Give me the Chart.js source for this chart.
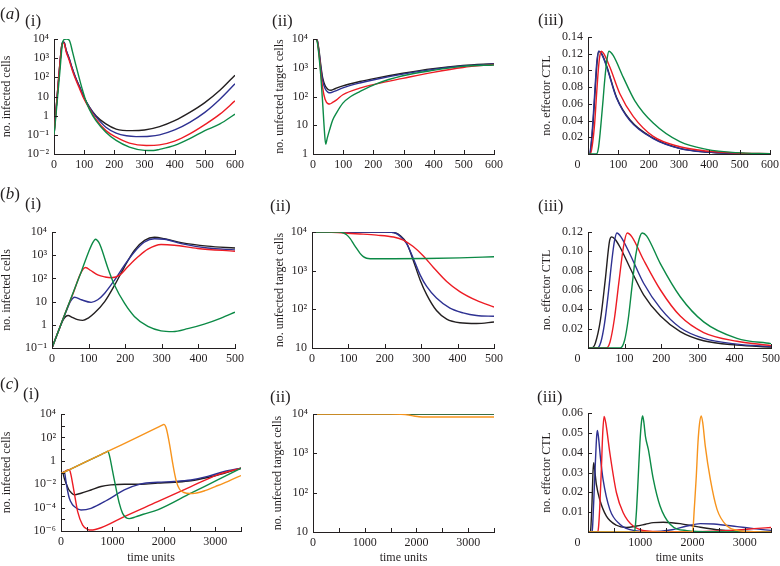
<!DOCTYPE html>
<html><head><meta charset="utf-8">
<script src="https://cdn.jsdelivr.net/npm/chart.js@4.4.1/dist/chart.umd.min.js"></script>
<style>
body{margin:0;width:780px;height:566px;background:#fff;position:relative;overflow:hidden;font-family:'Liberation Serif','DejaVu Serif',serif}
canvas{position:absolute;left:0;top:0}
.lab{position:absolute;font-size:17px;line-height:17px;color:#231f20;white-space:nowrap}
</style></head><body>
<canvas id="a1" width="780" height="566"></canvas>
<canvas id="a2" width="780" height="566"></canvas>
<canvas id="a3" width="780" height="566"></canvas>
<canvas id="b1" width="780" height="566"></canvas>
<canvas id="b2" width="780" height="566"></canvas>
<canvas id="b3" width="780" height="566"></canvas>
<canvas id="c1" width="780" height="566"></canvas>
<canvas id="c2" width="780" height="566"></canvas>
<canvas id="c3" width="780" height="566"></canvas>
<div class="lab" style="left:0;top:5px">(<i>a</i>)</div>
<div class="lab" style="left:25px;top:12px">(i)</div>
<div class="lab" style="left:272px;top:12px">(ii)</div>
<div class="lab" style="left:538px;top:11px">(iii)</div>
<div class="lab" style="left:0;top:185px">(<i>b</i>)</div>
<div class="lab" style="left:25px;top:195px">(i)</div>
<div class="lab" style="left:270px;top:197px">(ii)</div>
<div class="lab" style="left:538px;top:197px">(iii)</div>
<div class="lab" style="left:0;top:375px">(<i>c</i>)</div>
<div class="lab" style="left:23px;top:385px">(i)</div>
<div class="lab" style="left:270px;top:388px">(ii)</div>
<div class="lab" style="left:537px;top:388px">(iii)</div>
<script>
// ---------- tick values and labels ----------
const X_TICKS_600 = [0, 100, 200, 300, 400, 500, 600];
const X_LABELS_600 = ['0', '100', '200', '300', '400', '500', '600'];
const X_LABELS_600_OFF = ['0       ', '100', '200', '300', '400', '500', '600'];
const X_TICKS_500 = [0, 100, 200, 300, 400, 500];
const X_LABELS_500 = ['0', '100', '200', '300', '400', '500'];
const X_LABELS_500_OFF = ['0       ', '100', '200', '300', '400', '500'];
const X_TICKS_3500 = [0, 500, 1000, 1500, 2000, 2500, 3000, 3500];
const X_LABELS_3500 = ['0', '', '1000', '', '2000', '', '3000', ''];
const X_LABELS_3500_OFF = ['0       ', '', '1000', '', '2000', '', '3000', ''];

const A1_Y_TICKS = [0.01, 0.1, 1, 10, 100, 1000, 10000];
const A1_Y_LABELS = ['10⁻²', '10⁻¹', '1', '10', '10²', '10³', '10⁴'];
const A2_Y_TICKS = [1, 10, 100, 1000, 10000];
const A2_Y_LABELS = ['1', '10', '10²', '10³', '10⁴'];
const A3_Y_TICKS = [0.02, 0.04, 0.06, 0.08, 0.1, 0.12, 0.14];
const A3_Y_LABELS = ['0.02', '0.04', '0.06', '0.08', '0.10', '0.12', '0.14'];
const B1_Y_TICKS = [0.1, 1, 10, 100, 1000, 10000];
const B1_Y_LABELS = ['10⁻¹', '1', '10', '10²', '10³', '10⁴'];
const B2_Y_TICKS = [10, 100, 1000, 10000];
const B2_Y_LABELS = ['10', '10²', '10³', '10⁴'];
const B3_Y_TICKS = [0.02, 0.04, 0.06, 0.08, 0.1, 0.12];
const B3_Y_LABELS = ['0.02', '0.04', '0.06', '0.08', '0.10', '0.12'];
const C1_Y_TICKS = [1e-6, 1e-5, 1e-4, 1e-3, 1e-2, 1e-1, 1, 10, 100, 1000, 10000];
const C1_Y_LABELS = ['10⁻⁶', '', '10⁻⁴', '', '10⁻²', '', '1', '', '10²', '', '10⁴'];
const C2_Y_TICKS = [10, 100, 1000, 10000];
const C2_Y_LABELS = ['10', '10²', '10³', '10⁴'];
const C3_Y_TICKS = [0.01, 0.02, 0.03, 0.04, 0.05, 0.06];
const C3_Y_LABELS = ['0.01', '0.02', '0.03', '0.04', '0.05', '0.06'];

// ---------- (a)(i) infected cells ----------
const A1_BLACK_X = [0, 5, 12, 20, 26, 30, 34, 40, 50, 60, 72, 85, 100, 117, 139, 172, 206, 258, 300, 350, 400, 450, 500, 550, 600];
const A1_BLACK_Y = [0.1, 0.9, 20, 630, 5000, 7000, 6600, 2700, 1000, 310, 93, 32, 8.9, 2.9, 1.0, 0.37, 0.2, 0.166, 0.18, 0.27, 0.55, 1.48, 4.8, 21, 129];
const A1_BLUE_X = [0, 5, 12, 20, 26, 30, 34, 40, 50, 60, 72, 85, 100, 117, 139, 172, 206, 240, 272, 317, 350, 400, 450, 500, 550, 600];
const A1_BLUE_Y = [0.1, 0.9, 20, 630, 5000, 6900, 6500, 2650, 980, 305, 92, 31, 8.5, 2.8, 0.89, 0.25, 0.123, 0.089, 0.081, 0.085, 0.1, 0.18, 0.45, 1.48, 7.2, 46];
const A1_RED_X = [0, 5, 12, 20, 26, 30, 34, 40, 50, 60, 72, 85, 100, 117, 139, 172, 206, 250, 306, 350, 400, 450, 500, 550, 600];
const A1_RED_Y = [0.1, 0.9, 20, 630, 4800, 6300, 5800, 2240, 794, 251, 76, 25, 7.2, 2.45, 0.66, 0.166, 0.076, 0.037, 0.028, 0.03, 0.047, 0.112, 0.34, 1.2, 5.9];
const A1_GREEN_X = [0, 5, 12, 20, 28, 35, 42, 50, 55, 61, 72, 83, 94, 105, 117, 139, 172, 206, 250, 300, 330, 350, 400, 450, 500, 550, 600];
const A1_GREEN_Y = [0.1, 0.6, 10, 250, 6000, 9600, 9800, 8900, 5600, 2240, 457, 100, 23, 6.3, 2.2, 0.55, 0.138, 0.051, 0.023, 0.0155, 0.0151, 0.0174, 0.028, 0.063, 0.166, 0.37, 1.2];

// ---------- (a)(ii) uninfected target cells ----------
const A2_BLACK_X = [0, 8, 14, 20, 26, 32, 40, 50, 60, 75, 99, 155, 210, 298, 398, 497, 600];
const A2_BLACK_Y = [10000, 10000, 9000, 4000, 1200, 450, 240, 175, 165, 190, 234, 331, 437, 646, 933, 1200, 1380];
const A2_BLUE_X = [0, 8, 14, 20, 26, 32, 40, 50, 57, 70, 99, 155, 210, 298, 398, 497, 600];
const A2_BLUE_Y = [10000, 10000, 9000, 3500, 1000, 360, 190, 140, 135, 150, 200, 295, 400, 600, 880, 1150, 1350];
const A2_RED_X = [0, 8, 14, 20, 26, 32, 40, 50, 55, 65, 77, 99, 155, 210, 298, 398, 497, 600];
const A2_RED_Y = [10000, 10000, 8500, 3000, 700, 200, 80, 56, 55, 62, 75, 115, 195, 275, 427, 692, 1020, 1300];
const A2_GREEN_X = [0, 8, 14, 20, 26, 32, 38, 42, 47, 55, 65, 77, 99, 125, 155, 210, 298, 398, 497, 600];
const A2_GREEN_Y = [10000, 10000, 8000, 2500, 500, 60, 6, 2.2, 3.5, 6.9, 15, 26, 59, 100, 148, 275, 525, 813, 1120, 1250];

// ---------- (a)(iii) effector CTL ----------
const A3_BLACK_X = [0, 5, 10, 16, 20, 25, 30, 36, 45, 61, 94, 138, 215, 303, 391, 490, 600];
const A3_BLACK_Y = [0, 0, 0.008, 0.033, 0.055, 0.084, 0.11, 0.123, 0.12, 0.106, 0.068, 0.041, 0.019, 0.0068, 0.0024, 0.0008, 0.0002];
const A3_BLUE_X = [0, 4, 9, 15, 19, 24, 29, 35, 44, 60, 94, 138, 215, 303, 391, 490, 600];
const A3_BLUE_Y = [0, 0, 0.008, 0.033, 0.055, 0.084, 0.11, 0.123, 0.12, 0.106, 0.067, 0.040, 0.0185, 0.0066, 0.0023, 0.0008, 0.0002];
const A3_RED_X = [0, 8, 14, 22, 28, 33, 38, 44, 52, 72, 105, 149, 215, 303, 391, 490, 600];
const A3_RED_Y = [0, 0, 0.01, 0.037, 0.07, 0.096, 0.115, 0.123, 0.12, 0.104, 0.072, 0.045, 0.021, 0.0087, 0.0036, 0.0012, 0.0003];
const A3_GREEN_X = [0, 28, 34, 40, 44, 50, 55, 63, 69, 83, 116, 154, 215, 303, 391, 490, 600];
const A3_GREEN_Y = [0, 0, 0.006, 0.025, 0.041, 0.066, 0.088, 0.114, 0.123, 0.118, 0.092, 0.064, 0.037, 0.0147, 0.0056, 0.0016, 0.0004];

// ---------- (b)(i) infected cells ----------
const B1_BLACK_X = [0, 20, 30, 38, 44, 55, 70, 84, 100, 116, 144, 171, 198, 225, 253, 280, 307, 353, 425, 500];
const B1_BLACK_Y = [0.1, 0.68, 1.6, 2.3, 2.5, 2.1, 1.66, 1.55, 2.0, 3.2, 10, 51, 316, 1620, 4370, 5900, 5130, 3470, 2450, 2040];
const B1_BLUE_X = [0, 20, 40, 50, 62, 80, 107, 125, 144, 171, 198, 225, 253, 280, 307, 353, 425, 500];
const B1_BLUE_Y = [0.1, 0.68, 4.2, 10, 15.5, 12, 9.3, 12, 23, 85, 370, 1380, 3700, 5130, 4900, 3160, 2040, 1700];
const B1_RED_X = [0, 20, 40, 60, 75, 85, 92, 105, 125, 145, 162, 185, 207, 235, 262, 298, 334, 398, 500];
const B1_RED_Y = [0.1, 0.68, 4.6, 28, 126, 250, 295, 224, 141, 115, 107, 138, 316, 850, 1820, 2880, 2690, 1950, 1480];
const B1_GREEN_X = [0, 20, 40, 60, 80, 100, 110, 119, 128, 135, 153, 171, 198, 225, 262, 298, 330, 371, 416, 462, 500];
const B1_GREEN_Y = [0.1, 0.68, 4.6, 30, 195, 1380, 3160, 4900, 3550, 1950, 270, 51, 8.5, 2.3, 0.85, 0.55, 0.51, 0.68, 1.07, 1.95, 3.5];

// ---------- (b)(ii) uninfected target cells ----------
const B2_BLACK_X = [0, 200, 230, 242, 260, 278, 297, 315, 342, 370, 406, 452, 500];
const B2_BLACK_Y = [10000, 9950, 9400, 8100, 5200, 1860, 575, 240, 93, 56, 45, 43, 47];
const B2_BLUE_X = [0, 200, 230, 242, 260, 278, 297, 315, 342, 379, 415, 452, 500];
const B2_BLUE_Y = [10000, 9900, 9300, 7800, 5000, 2100, 780, 390, 195, 107, 81, 69, 66];
const B2_RED_X = [0, 41, 87, 132, 178, 224, 251, 278, 306, 333, 370, 406, 452, 500];
const B2_RED_Y = [10000, 10000, 9400, 8900, 8300, 7400, 6200, 4200, 2400, 1230, 525, 288, 170, 115];
const B2_GREEN_X = [0, 78, 95, 105, 115, 123, 132, 141, 150, 160, 224, 315, 406, 500];
const B2_GREEN_Y = [10000, 9900, 8500, 6760, 4800, 3700, 2800, 2300, 2090, 2040, 2040, 2065, 2140, 2290];

// ---------- (b)(iii) effector CTL ----------
const B3_BLACK_X = [0, 10, 20, 34, 47, 59, 65, 75, 88, 116, 152, 198, 252, 316, 407, 500];
const B3_BLACK_Y = [0, 0, 0.005, 0.029, 0.07, 0.111, 0.115, 0.112, 0.104, 0.082, 0.055, 0.033, 0.017, 0.0075, 0.003, 0.001];
const B3_BLUE_X = [0, 25, 35, 45, 55, 65, 72, 79, 90, 116, 152, 198, 252, 316, 407, 500];
const B3_BLUE_Y = [0, 0, 0.006, 0.025, 0.055, 0.09, 0.11, 0.119, 0.115, 0.096, 0.067, 0.041, 0.021, 0.010, 0.004, 0.0015];
const B3_RED_X = [0, 50, 60, 72, 85, 97, 107, 120, 152, 198, 252, 316, 407, 500];
const B3_RED_Y = [0, 0, 0.006, 0.03, 0.07, 0.105, 0.119, 0.115, 0.091, 0.06, 0.033, 0.016, 0.007, 0.0025];
const B3_GREEN_X = [0, 88, 100, 110, 120, 130, 140, 148, 160, 198, 252, 316, 407, 500];
const B3_GREEN_Y = [0, 0, 0.008, 0.03, 0.063, 0.095, 0.113, 0.119, 0.116, 0.087, 0.053, 0.027, 0.010, 0.0045];

// ---------- (c)(i) infected cells ----------
const C1_BLACK_X = [0, 32, 65, 97, 150, 194, 259, 389, 583, 777, 971, 1231, 1555, 1879, 2203, 2527, 2851, 3175, 3500];
const C1_BLACK_Y = [0.08, 0.093, 0.03, 0.0123, 0.0035, 0.002, 0.00123, 0.0017, 0.0032, 0.0063, 0.0087, 0.01, 0.01, 0.0123, 0.0148, 0.0195, 0.037, 0.087, 0.234];
const C1_BLUE_X = [0, 65, 97, 130, 162, 210, 259, 389, 583, 907, 1231, 1555, 1879, 2203, 2527, 2851, 3175, 3500];
const C1_BLUE_Y = [0.08, 0.11, 0.017, 0.0025, 0.00063, 0.00022, 0.000123, 0.000063, 0.000087, 0.00046, 0.0032, 0.0107, 0.0148, 0.017, 0.023, 0.046, 0.123, 0.234];
const C1_RED_X = [0, 162, 194, 230, 259, 324, 421, 518, 583, 777, 1231, 1879, 2527, 3046, 3500];
const C1_RED_Y = [0.08, 0.17, 0.063, 0.009, 0.0017, 0.000046, 0.0000032, 0.0000014, 0.0000012, 0.0000019, 0.000017, 0.00032, 0.0063, 0.063, 0.234];
const C1_GREEN_X = [0, 500, 800, 880, 907, 939, 1004, 1069, 1134, 1198, 1263, 1328, 1450, 1600, 1879, 2527, 3046, 3500];
const C1_GREEN_Y = [0.08, 0.9, 3.8, 5.6, 6.6, 3.2, 0.123, 0.0046, 0.00023, 0.000032, 0.000014, 0.0000115, 0.000016, 0.000027, 0.000063, 0.0017, 0.023, 0.23];
const C1_ORANGE_X = [0, 500, 1000, 1500, 1900, 1980, 2000, 2045, 2110, 2175, 2240, 2305, 2390, 2500, 2600, 2800, 3000, 3250, 3500];
const C1_ORANGE_Y = [0.08, 0.9, 10, 110, 790, 1170, 1300, 630, 27, 0.51, 0.0195, 0.0037, 0.00195, 0.0016, 0.00166, 0.0028, 0.0063, 0.0178, 0.055];

// ---------- (c)(ii) uninfected target cells ----------
const C2_FLAT_X = [0, 3500];
const C2_FLAT_Y = [10000, 10000];
const C2_ORANGE_X = [0, 1500, 1700, 1850, 1950, 2050, 2200, 3500];
const C2_ORANGE_Y = [10000, 9950, 9800, 9400, 8900, 8500, 8400, 8400];

// ---------- (c)(iii) effector CTL ----------
const C3_BLACK_X = [0, 40, 51, 77, 95, 109, 125, 160, 224, 352, 544, 737, 929, 1100, 1250, 1442, 1600, 1763, 2083, 2532, 3173, 3500];
const C3_BLACK_Y = [0, 0, 0.001, 0.015, 0.03, 0.0349, 0.032, 0.024, 0.0164, 0.008, 0.0034, 0.0023, 0.003, 0.0039, 0.0047, 0.0049, 0.0047, 0.0042, 0.0027, 0.001, 0.0002, 0.0001];
const C3_BLUE_X = [0, 70, 83, 109, 141, 165, 179, 200, 240, 288, 417, 609, 865, 1250, 1571, 1891, 2147, 2404, 2853, 3173, 3500];
const C3_BLUE_Y = [0, 0, 0.001, 0.015, 0.035, 0.048, 0.0512, 0.048, 0.037, 0.0265, 0.0114, 0.0039, 0.0008, 0.0002, 0.001, 0.003, 0.0042, 0.004, 0.0027, 0.0017, 0.0008];
const C3_RED_X = [0, 185, 200, 224, 256, 282, 308, 340, 417, 544, 673, 865, 1250, 2000, 2532, 3000, 3173, 3500];
const C3_RED_Y = [0, 0, 0.002, 0.012, 0.032, 0.05, 0.0583, 0.055, 0.04, 0.0198, 0.0097, 0.003, 0.0003, 0.0001, 0.0005, 0.0013, 0.0017, 0.0023];
const C3_GREEN_X = [0, 880, 897, 929, 961, 993, 1025, 1045, 1065, 1100, 1154, 1250, 1378, 1571, 1891, 2400, 3500];
const C3_GREEN_Y = [0, 0, 0.001, 0.0114, 0.028, 0.045, 0.056, 0.0585, 0.056, 0.048, 0.0416, 0.0265, 0.0131, 0.0039, 0.0007, 0.0001, 0];
const C3_ORANGE_X = [0, 1990, 2006, 2032, 2071, 2103, 2135, 2166, 2195, 2243, 2340, 2468, 2660, 2853, 3173, 3500];
const C3_ORANGE_Y = [0, 0, 0.001, 0.0114, 0.028, 0.045, 0.055, 0.0585, 0.055, 0.0433, 0.0265, 0.0114, 0.003, 0.0008, 0.0001, 0];

// ---------- styling ----------
const BLACK = '#231f20', BLUE = '#2e3192', RED = '#ed1c24', GREEN = '#0c8a46', ORANGE = '#f7941d';
const AXIS = '#231f20', TXT = '#231f20';
const FONT = "'Liberation Serif','DejaVu Serif',serif";
Chart.defaults.font.family = FONT;
Chart.defaults.font.size = 12;
Chart.defaults.color = TXT;

const inTicks = {
  id: 'inTicks',
  afterDatasetsDraw(chart) {
    const { ctx, chartArea: { left, bottom } } = chart;
    const xs = chart.scales.x, ys = chart.scales.y;
    ctx.save();
    ctx.strokeStyle = AXIS; ctx.lineWidth = 1;
    ctx.beginPath();
    xs.ticks.forEach(t => { const p = Math.round(xs.getPixelForValue(t.value)) + 0.5; ctx.moveTo(p, bottom); ctx.lineTo(p, bottom - 4); });
    ys.ticks.forEach(t => { const p = Math.round(ys.getPixelForValue(t.value)) + 0.5; ctx.moveTo(left, p); ctx.lineTo(left + 4, p); });
    ctx.stroke();
    ctx.restore();
  }
};

function pts(xs, ys) { return xs.map((x, i) => ({ x: x, y: ys[i] })); }

function panel(id, o) {
  const padLeft = Math.max(0, o.titleCx - 7.2);
  const yw = o.left - padLeft;
  const xh = o.xTitle ? (558 - o.bottom + 7.2) : 20;
  const padBottom = 566 - o.bottom - xh;
  new Chart(document.getElementById(id), {
    type: 'line',
    data: {
      datasets: o.series.map(s => ({
        data: pts(s[0], s[1]), borderColor: s[2], borderWidth: 1.4, pointRadius: 0,
        fill: false, cubicInterpolationMode: 'monotone'
      }))
    },
    options: {
      responsive: false, animation: false, events: [], devicePixelRatio: 1,
      layout: { padding: { left: padLeft, right: 780 - o.right, top: o.top, bottom: padBottom } },
      plugins: { legend: { display: false }, tooltip: { enabled: false } },
      scales: {
        x: {
          type: 'linear', min: 0, max: o.xMax,
          grid: { display: false, drawTicks: false },
          border: { display: true, color: AXIS, width: 1 },
          afterBuildTicks: s => { s.ticks = o.xTicks.map(v => ({ value: v })); },
          afterFit: s => { s.height = xh; s.paddingLeft = 0; s.paddingRight = 0; },
          ticks: { autoSkip: false, maxRotation: 0, minRotation: 0, padding: 4, color: TXT, callback: (v, i) => o.xLabels[i] },
          title: { display: !!o.xTitle, text: 'time units', padding: 0, color: TXT, font: { size: 12 } }
        },
        y: {
          type: o.yType, min: o.yMin, max: o.yMax,
          grid: { display: false, drawTicks: false },
          border: { display: true, color: AXIS, width: 1 },
          afterBuildTicks: s => { s.ticks = o.yTicks.map(v => ({ value: v })); },
          afterFit: s => { s.width = yw; s.paddingTop = 0; s.paddingBottom = 0; },
          ticks: { autoSkip: false, padding: 5, color: TXT, callback: (v, i) => o.yLabels[i] },
          title: { display: true, text: o.yTitle, padding: 0, color: TXT, font: { size: 12 } }
        }
      }
    },
    plugins: [inTicks]
  });
}

const T_INF = 'no. infected cells', T_UNF = 'no. unfected target cells', T_CTL = 'no. effector CTL';

panel('a1', { left: 54, right: 235, top: 39, bottom: 154, titleCx: 7, yType: 'logarithmic', yMin: 0.01, yMax: 10000,
  yTicks: A1_Y_TICKS, yLabels: A1_Y_LABELS, xMax: 600, xTicks: X_TICKS_600, xLabels: X_LABELS_600, yTitle: T_INF,
  series: [[A1_GREEN_X, A1_GREEN_Y, GREEN], [A1_RED_X, A1_RED_Y, RED], [A1_BLUE_X, A1_BLUE_Y, BLUE], [A1_BLACK_X, A1_BLACK_Y, BLACK]] });
panel('a2', { left: 313, right: 494, top: 39, bottom: 154, titleCx: 280, yType: 'logarithmic', yMin: 1, yMax: 10000,
  yTicks: A2_Y_TICKS, yLabels: A2_Y_LABELS, xMax: 600, xTicks: X_TICKS_600, xLabels: X_LABELS_600, yTitle: T_UNF,
  series: [[A2_GREEN_X, A2_GREEN_Y, GREEN], [A2_RED_X, A2_RED_Y, RED], [A2_BLUE_X, A2_BLUE_Y, BLUE], [A2_BLACK_X, A2_BLACK_Y, BLACK]] });
panel('a3', { left: 588, right: 770, top: 37, bottom: 154, titleCx: 547, yType: 'linear', yMin: 0, yMax: 0.14,
  yTicks: A3_Y_TICKS, yLabels: A3_Y_LABELS, xMax: 600, xTicks: X_TICKS_600, xLabels: X_LABELS_600_OFF, yTitle: T_CTL,
  series: [[A3_GREEN_X, A3_GREEN_Y, GREEN], [A3_RED_X, A3_RED_Y, RED], [A3_BLUE_X, A3_BLUE_Y, BLUE], [A3_BLACK_X, A3_BLACK_Y, BLACK]] });

panel('b1', { left: 52, right: 235, top: 232, bottom: 348, titleCx: 7, yType: 'logarithmic', yMin: 0.1, yMax: 10000,
  yTicks: B1_Y_TICKS, yLabels: B1_Y_LABELS, xMax: 500, xTicks: X_TICKS_500, xLabels: X_LABELS_500, yTitle: T_INF,
  series: [[B1_GREEN_X, B1_GREEN_Y, GREEN], [B1_RED_X, B1_RED_Y, RED], [B1_BLUE_X, B1_BLUE_Y, BLUE], [B1_BLACK_X, B1_BLACK_Y, BLACK]] });
panel('b2', { left: 312, right: 494, top: 232, bottom: 348, titleCx: 280, yType: 'logarithmic', yMin: 10, yMax: 10000,
  yTicks: B2_Y_TICKS, yLabels: B2_Y_LABELS, xMax: 500, xTicks: X_TICKS_500, xLabels: X_LABELS_500, yTitle: T_UNF,
  series: [[B2_GREEN_X, B2_GREEN_Y, GREEN], [B2_RED_X, B2_RED_Y, RED], [B2_BLUE_X, B2_BLUE_Y, BLUE], [B2_BLACK_X, B2_BLACK_Y, BLACK]] });
panel('b3', { left: 588, right: 771, top: 232, bottom: 348, titleCx: 547, yType: 'linear', yMin: 0, yMax: 0.12,
  yTicks: B3_Y_TICKS, yLabels: B3_Y_LABELS, xMax: 500, xTicks: X_TICKS_500, xLabels: X_LABELS_500_OFF, yTitle: T_CTL,
  series: [[B3_GREEN_X, B3_GREEN_Y, GREEN], [B3_RED_X, B3_RED_Y, RED], [B3_BLUE_X, B3_BLUE_Y, BLUE], [B3_BLACK_X, B3_BLACK_Y, BLACK]] });

panel('c1', { left: 61, right: 241, top: 414, bottom: 531, titleCx: 5, xTitle: true, yType: 'logarithmic', yMin: 1e-6, yMax: 10000,
  yTicks: C1_Y_TICKS, yLabels: C1_Y_LABELS, xMax: 3500, xTicks: X_TICKS_3500, xLabels: X_LABELS_3500, yTitle: T_INF,
  series: [[C1_ORANGE_X, C1_ORANGE_Y, ORANGE], [C1_GREEN_X, C1_GREEN_Y, GREEN], [C1_RED_X, C1_RED_Y, RED], [C1_BLUE_X, C1_BLUE_Y, BLUE], [C1_BLACK_X, C1_BLACK_Y, BLACK]] });
panel('c2', { left: 313, right: 494, top: 414, bottom: 532, titleCx: 278, xTitle: true, yType: 'logarithmic', yMin: 10, yMax: 10000,
  yTicks: C2_Y_TICKS, yLabels: C2_Y_LABELS, xMax: 3500, xTicks: X_TICKS_3500, xLabels: X_LABELS_3500, yTitle: T_UNF,
  series: [[C2_ORANGE_X, C2_ORANGE_Y, ORANGE], [C2_FLAT_X, C2_FLAT_Y, GREEN], [C2_FLAT_X, C2_FLAT_Y, RED], [C2_FLAT_X, C2_FLAT_Y, BLUE], [C2_FLAT_X, C2_FLAT_Y, BLACK]] });
panel('c3', { left: 588, right: 771, top: 413, bottom: 532, titleCx: 547, xTitle: true, yType: 'linear', yMin: 0, yMax: 0.06,
  yTicks: C3_Y_TICKS, yLabels: C3_Y_LABELS, xMax: 3500, xTicks: X_TICKS_3500, xLabels: X_LABELS_3500_OFF, yTitle: T_CTL,
  series: [[C3_ORANGE_X, C3_ORANGE_Y, ORANGE], [C3_GREEN_X, C3_GREEN_Y, GREEN], [C3_RED_X, C3_RED_Y, RED], [C3_BLUE_X, C3_BLUE_Y, BLUE], [C3_BLACK_X, C3_BLACK_Y, BLACK]] });
</script>
</body></html>
